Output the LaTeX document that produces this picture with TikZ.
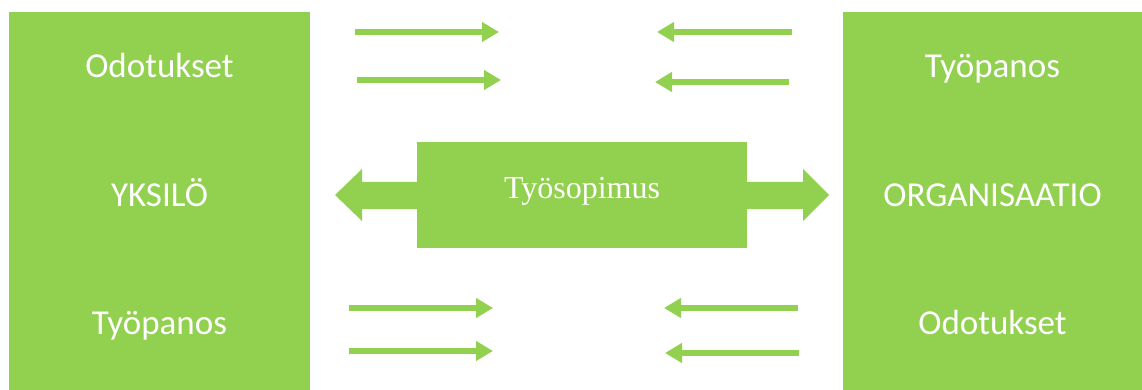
\documentclass[tikz,border=0pt]{standalone}
\usepackage{fontspec}
\setmainfont{Carlito}
\newfontfamily\serifface{Liberation Serif}
\usetikzlibrary{arrows.meta}
\definecolor{leaf}{HTML}{92D050}
\tikzset{
  panel/.style={fill=leaf, draw=none},
  paneltext/.style={text=white, font=\fontsize{35}{41}\selectfont, anchor=base, inner sep=0pt},
  flow/.style={draw=leaf, line width=5.5pt, arrows={-Triangle[length=17pt,width=19pt]}}
}
\begin{document}
\begin{tikzpicture}[x=1pt, y=-1pt]
\useasboundingbox (0,0) rectangle (1142,390);

% side panels
\fill[panel] (9,12) rectangle (310,390);
\fill[panel] (843,12) rectangle (1142,390);

% double arrow behind the contract box
\fill[leaf] (335,195) -- (362,169) -- (362,182) -- (803,182) -- (803,169)
  -- (829,195) -- (803,221) -- (803,209) -- (362,209) -- (362,221) -- cycle;

% contract box
\node[panel, minimum width=330pt, minimum height=106pt, inner sep=0pt] (contract) at (582,195) {};
\node[text=white, anchor=base, inner sep=0pt, font=\serifface\fontsize{32}{38}\selectfont] (contractlabel) at (582,198) {Työsopimus};

% panel labels
\node[paneltext] (lexp) at (159.5,78) {Odotukset};
\node[paneltext] (lname) at (159.5,207) {YKSILÖ};
\node[paneltext] (linput) at (159.5,334) {Työpanos};
\node[paneltext] (rinput) at (992.5,78) {Työpanos};
\node[paneltext] (rname) at (992.5,207) {ORGANISAATIO};
\node[paneltext] (rexp) at (992.5,334) {Odotukset};

% flow arrows
\coordinate (a1s) at (355,32);  \coordinate (a1e) at (499,32);
\coordinate (a2s) at (357,80);  \coordinate (a2e) at (501,80);
\coordinate (a3s) at (792,32);  \coordinate (a3e) at (657,32);
\coordinate (a4s) at (789,82);  \coordinate (a4e) at (655,82);
\coordinate (a5s) at (349,308); \coordinate (a5e) at (493,308);
\coordinate (a6s) at (349,351); \coordinate (a6e) at (493,351);
\coordinate (a7s) at (798,308); \coordinate (a7e) at (664,308);
\coordinate (a8s) at (799,353); \coordinate (a8e) at (665,353);
\foreach \k in {1,...,8} {\draw[flow] (a\k s) -- (a\k e);}
\end{tikzpicture}
\end{document}
